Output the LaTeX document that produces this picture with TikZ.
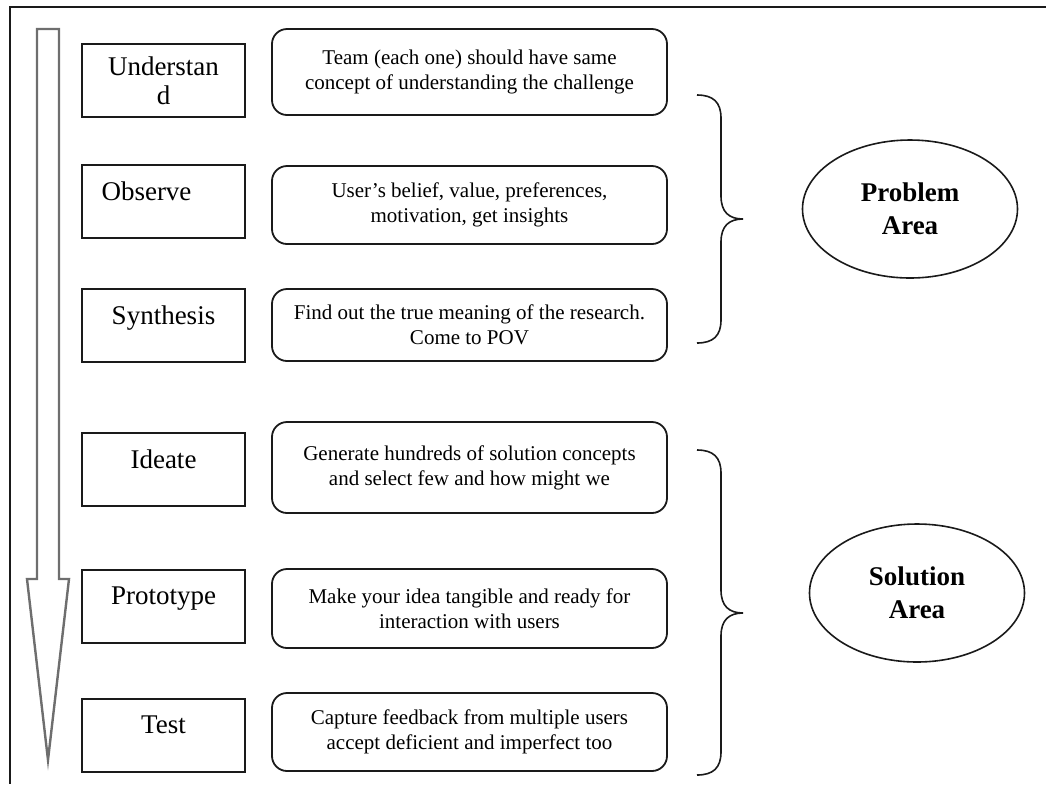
\documentclass[tikz,border=0pt]{standalone}
\usepackage{fontspec}
\setmainfont{Liberation Serif}
\usepackage{tikz}
\usetikzlibrary{shapes.geometric}
\definecolor{ink}{HTML}{1A1A1A}
\definecolor{shaft}{HTML}{6E6E6E}
\tikzset{
  frame/.style={draw=ink, line width=1pt},
  stepbox/.style={draw=ink, line width=1pt, minimum width=81.5pt, minimum height=36.5pt,
    font=\fontsize{13.5}{13.5}\selectfont, text depth=10pt},
  descbox/.style={draw=ink, line width=0.9pt, rounded corners=7.5pt, minimum width=197.5pt,
    align=center, font=\fontsize{10.5}{12.5}\selectfont},
  areaell/.style={ellipse, draw=ink, line width=0.8pt, minimum width=107.5pt, minimum height=69pt,
    inner sep=0pt, align=center, font=\bfseries\fontsize{13.5}{16.5}\selectfont},
  areabrace/.style={draw=ink, line width=0.8pt},
  flow/.style={draw=shaft, line width=1.2pt, line join=miter}
}

\begin{document}
\begin{tikzpicture}[x=0.5pt, y=-0.5pt]
  \useasboundingbox (0,0) rectangle (1046,784);
  \draw[frame] (1046,7) -- (10,7) -- (10,784);

  % process arrow, top to bottom
  \draw[flow] (37,29) -- (59,29) -- (59,579) -- (69,579) -- (48,760) -- (27,579) -- (37,579) -- cycle;

  % steps
  \node[stepbox, text depth=, align=center, font=\fontsize{13.5}{14.5}\selectfont] (understand) at (163.5,80.5) {Understan\\d};
  \node[stepbox] (observe)   at (163.5,201.5) {Observe\hspace*{17pt}};
  \node[stepbox] (synthesis) at (163.5,325)   {Synthesis};
  \node[stepbox] (ideate)    at (163.5,469.5) {Ideate};
  \node[stepbox] (prototype) at (163.5,606)   {Prototype};
  \node[stepbox] (test)      at (163.5,735)   {Test};

  % what each step is about
  \node[descbox, minimum height=43pt]   (dunderstand) at (469.5,72)    {Team (each one) should have same\\concept of understanding the challenge};
  \node[descbox, minimum height=39pt]   (dobserve)    at (469.5,205)   {User’s belief, value, preferences,\\motivation, get insights};
  \node[descbox, minimum height=36pt]   (dsynthesis)  at (469.5,325)   {Find out the true meaning of the research.\\Come to POV};
  \node[descbox, minimum height=45.5pt] (dideate)     at (469.5,467.5) {Generate hundreds of solution concepts\\and select few and how might we};
  \node[descbox, minimum height=39.5pt] (dprototype)  at (469.5,608.5) {Make your idea tangible and ready for\\interaction with users};
  \node[descbox, minimum height=39pt]   (dtest)       at (469.5,732)   {Capture feedback from multiple users\\accept deficient and imperfect too};

  % braces
  \draw[areabrace] (697,95) .. controls (713,95) and (721,102) .. (721,118) -- (721,196)
    .. controls (721,212) and (729,219) .. (743,219)
    .. controls (729,219) and (721,226) .. (721,242) -- (721,320)
    .. controls (721,336) and (713,343) .. (697,343);
  \draw[areabrace] (697,450) .. controls (713,450) and (721,457) .. (721,473) -- (721,590)
    .. controls (721,606) and (729,613) .. (743,613)
    .. controls (729,613) and (721,620) .. (721,636) -- (721,752)
    .. controls (721,768) and (713,775) .. (697,775);

  \node[areaell] (problem)  at (910,209) {Problem\\Area};
  \node[areaell] (solution) at (917,593) {Solution\\Area};
\end{tikzpicture}
\end{document}
